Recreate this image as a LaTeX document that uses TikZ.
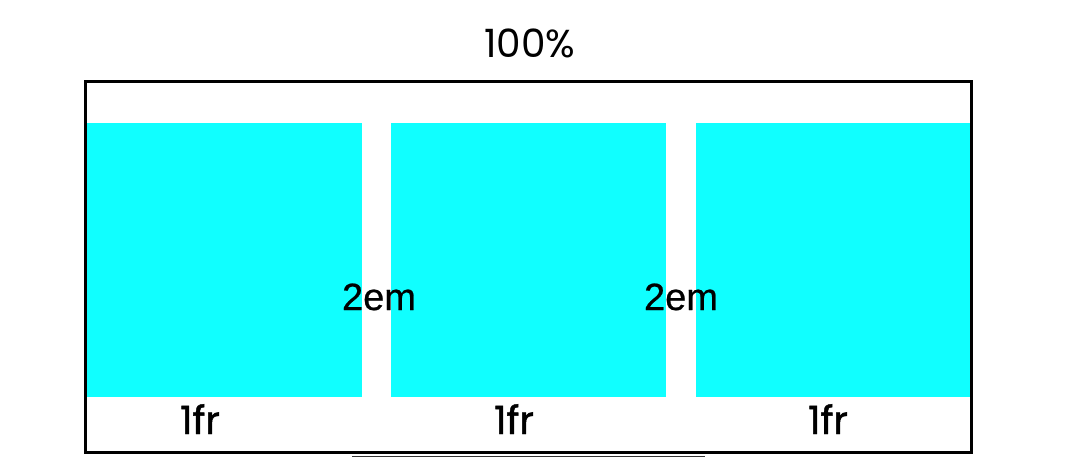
\documentclass[tikz,border=0pt]{standalone}
\usepackage{fontspec}
\setmainfont{Liberation Sans}
\newfontfamily\geo{Poppins}
\newfontfamily\geomed[FakeBold=1.2]{Poppins}
\newfontfamily\gapfont[FakeBold=0.6]{Liberation Sans}
\definecolor{boxcyan}{RGB}{16,255,255}
\begin{document}
\begin{tikzpicture}[x=1pt,y=-1pt,
  cell/.style={fill=boxcyan,draw=none},
  toplabel/.style={font=\geo\fontsize{39}{39}\selectfont,anchor=base,inner sep=0pt},
  frlabel/.style={font=\geomed\fontsize{39}{39}\selectfont,anchor=base,inner sep=0pt},
  gaplabel/.style={font=\gapfont\fontsize{38}{38}\selectfont,anchor=base,inner sep=0pt},
  frame/.style={draw=black,line width=3pt}]
\useasboundingbox (0,0) rectangle (1067,458);
\fill[cell] (87,123) rectangle (362,397);
\fill[cell] (391,123) rectangle (666,397);
\fill[cell] (696,123) rectangle (970,397);
\draw[frame] (85.5,81.5) rectangle (971.5,452.5);
\node[toplabel] (pct) at (530,57) {100\%};
\node[gaplabel] (g1) at (379,310) {2em};
\node[gaplabel] (g2) at (681,310) {2em};
\node[frlabel] (f1) at (200,434) {1fr};
\node[frlabel] (f2) at (514,434) {1fr};
\node[frlabel] (f3) at (828,434) {1fr};
\coordinate (la) at (352,456.8);
\coordinate (lb) at (705,456.8);
\draw[line width=1pt,black!80] (la) -- (lb);
\end{tikzpicture}
\end{document}
